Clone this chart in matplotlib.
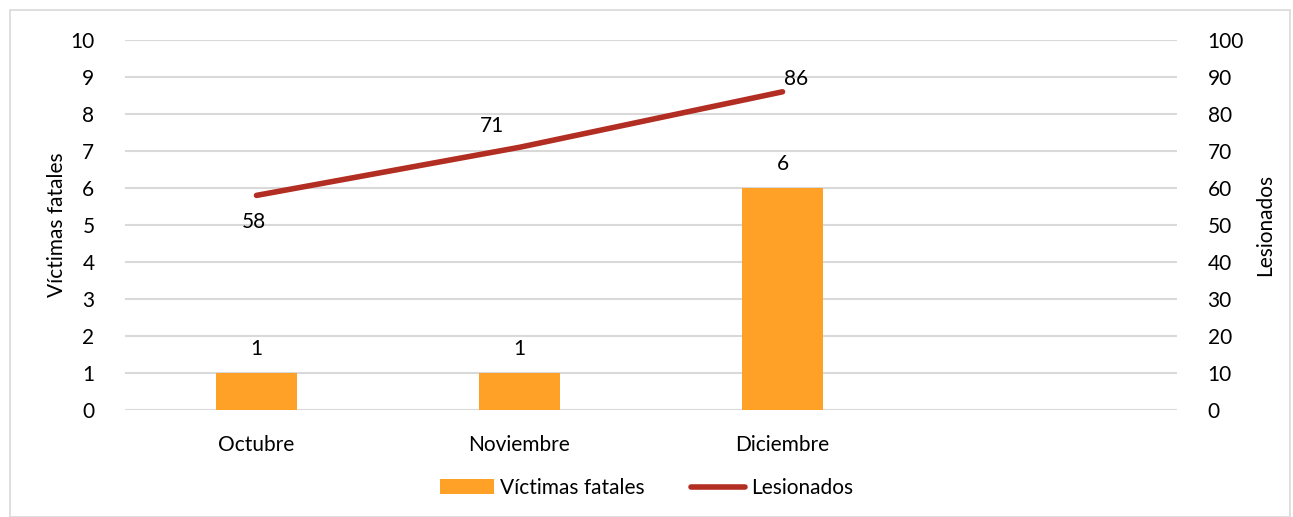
import matplotlib.pyplot as plt
from matplotlib.patches import Rectangle

meses = ["Octubre", "Noviembre", "Diciembre"]
victimas = [1, 1, 6]
lesionados = [58, 71, 86]

plt.rcParams['font.family'] = ['Lato', 'DejaVu Sans']
fs = 15

fig = plt.figure(figsize=(12.93, 5.17), dpi=100)
ax = fig.add_axes([125 / 1293, 107 / 517, 1052 / 1293, 370 / 517])
ax2 = ax.twinx()

x = list(range(len(meses)))
bars = ax.bar(x, victimas, width=0.31, color="#FFA126", label="Víctimas fatales", zorder=2)
ln, = ax2.plot(x, lesionados, color="#B22D22", lw=4, solid_capstyle="round",
               label="Lesionados", zorder=3)

ax.set_xlim(-0.5, 3.5)
ax.set_ylim(0, 10)
ax2.set_ylim(0, 100)
ax.set_yticks(range(0, 11))
ax2.set_yticks(range(0, 101, 10))
ax.set_xticks(x)
ax.set_xticklabels(meses)

ax.grid(axis="y", color="#D9D9D9", lw=1.5, zorder=0)
ax.set_axisbelow(True)
for a in (ax, ax2):
    for s in a.spines.values():
        s.set_visible(False)
    a.tick_params(length=0, labelsize=fs, colors="#000000")
ax.tick_params(axis="y", pad=22)
ax2.tick_params(axis="y", pad=22)
ax.tick_params(axis="x", pad=18)

ax.set_ylabel("Víctimas fatales", fontsize=fs, labelpad=2)
ax2.set_ylabel("Lesionados", fontsize=fs, labelpad=8)

for xi, v in zip(x, victimas):
    ax.annotate(str(v), (xi, v), xytext=(0, 10), textcoords="offset points",
                ha="center", va="bottom", fontsize=fs)

offsets = [(-2, -12, "top"), (-20, 8, "bottom"), (10, 2, "bottom")]
for xi, v, (dx, dy, va) in zip(x, lesionados, offsets):
    ax2.annotate(str(v), (xi, v), xytext=(dx, dy), textcoords="offset points",
                 ha="center", va=va, fontsize=fs)

fig.legend([bars, ln], ["Víctimas fatales", "Lesionados"], loc="center",
           bbox_to_anchor=(0.5, 1 - 488 / 517), ncol=2, frameon=False,
           fontsize=fs, handlelength=2.6, handletextpad=0.3, columnspacing=2.2)

fig.patches.append(Rectangle((10 / 1293, 0), 1280 / 1293, 507 / 517, transform=fig.transFigure,
                             fill=False, edgecolor="#D9D9D9", lw=1.2))

fig.savefig("out.png", dpi=100)
